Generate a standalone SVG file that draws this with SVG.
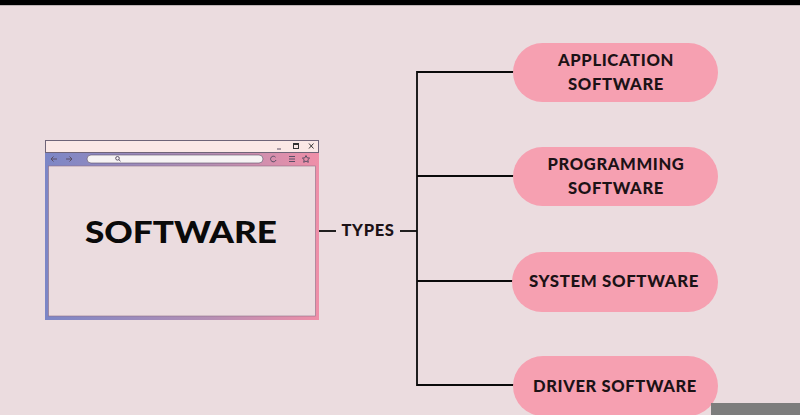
<svg xmlns="http://www.w3.org/2000/svg" width="800" height="415" viewBox="0 0 800 415">
<style>
.pill{fill:#f6a0b1}
.pt{font-family:Lato,"Liberation Sans",sans-serif;font-weight:900;font-size:16px;fill:#1c1216;text-anchor:middle;letter-spacing:0.6px}
.ln{stroke:#0a0a0a;stroke-width:1.8;fill:none}
.ic{stroke:#5a4f66;stroke-width:1;fill:none}
</style>
<defs>
<linearGradient id="g" x1="0" y1="0" x2="1" y2="0">
<stop offset="0" stop-color="#7c86c6"/>
<stop offset="0.6" stop-color="#b58fb4"/>
<stop offset="1" stop-color="#ef8fa8"/>
</linearGradient>
</defs>
<rect width="800" height="415" fill="#ebdcdf"/>
<rect width="800" height="5" fill="#000"/>
<rect y="5" width="800" height="1" fill="#bdb3b5"/>

<g id="browser">
<rect x="45" y="140" width="274" height="180" fill="url(#g)"/>
<rect x="45.5" y="140.5" width="273" height="12" fill="#fbe8e6" stroke="#6f6478" stroke-width="1"/>
<rect x="48.5" y="166" width="267" height="150" fill="#ebdcdf" stroke="#8e6f86" stroke-width="0.6"/>
<rect x="87" y="155" width="176" height="8" rx="4" fill="#f6f3f4" stroke="#5a4f66" stroke-width="0.6"/>
<circle cx="117.5" cy="158.3" r="1.8" class="ic"/>
<line x1="118.8" y1="159.6" x2="120.5" y2="161.2" class="ic"/>
<path d="M57 159H51M53.5 156.5L51 159L53.5 161.5" class="ic" stroke="#4a5a9a"/>
<path d="M66 159H72M69.5 156.5L72 159L69.5 161.5" class="ic" stroke="#4a5a9a"/>
<path d="M275.5 157.2A2.8 2.8 0 1 0 276 160" class="ic" stroke="#6b5a7a"/>
<path d="M289 156.5h6M289 159h6M289 161.5h6" class="ic" stroke="#8a6a84"/>
<path d="M306 155.5l1.1 2.3 2.5.3-1.8 1.7.5 2.5-2.3-1.2-2.3 1.2.5-2.5-1.8-1.7 2.5-.3z" class="ic" stroke="#5a4f66"/>
<line x1="277" y1="149" x2="281" y2="149" class="ic" stroke="#999"/>
<rect x="293.5" y="143.5" width="5" height="5" fill="none" stroke="#333" stroke-width="1"/>
<line x1="293.5" y1="144.3" x2="298.5" y2="144.3" stroke="#333" stroke-width="1.4"/>
<path d="M309 143.5l4.5 5M313.5 143.5l-4.5 5" stroke="#333" stroke-width="1"/>
<text x="181" y="243" font-family="Lato,'Liberation Sans',sans-serif" font-weight="900" font-size="31" fill="#0a0a0a" text-anchor="middle" textLength="192" lengthAdjust="spacingAndGlyphs">SOFTWARE</text>
</g>

<g id="connectors">
<line x1="319" y1="231" x2="336" y2="231" class="ln"/>
<line x1="400" y1="231" x2="417" y2="231" class="ln"/>
<polyline points="514,72 417,72 417,385 514,385" class="ln"/>
<line x1="417" y1="176" x2="514" y2="176" class="ln"/>
<line x1="417" y1="281" x2="514" y2="281" class="ln"/>
</g>

<g id="types">
<text x="368" y="236" class="pt" font-size="15.5" textLength="53" lengthAdjust="spacingAndGlyphs">TYPES</text>
</g>

<g id="application">
<rect x="513" y="43" width="205" height="59" rx="29.5" class="pill"/>
<text x="616" y="66" class="pt" textLength="116" lengthAdjust="spacingAndGlyphs">APPLICATION</text>
<text x="616" y="90" class="pt" textLength="96" lengthAdjust="spacingAndGlyphs">SOFTWARE</text>
</g>

<g id="programming">
<rect x="513" y="147" width="205" height="59" rx="29.5" class="pill"/>
<text x="616" y="170" class="pt" textLength="137" lengthAdjust="spacingAndGlyphs">PROGRAMMING</text>
<text x="616" y="194" class="pt" textLength="96" lengthAdjust="spacingAndGlyphs">SOFTWARE</text>
</g>

<g id="system">
<rect x="512" y="252" width="206" height="60" rx="30" class="pill"/>
<text x="614" y="287" class="pt" textLength="170" lengthAdjust="spacingAndGlyphs">SYSTEM SOFTWARE</text>
</g>

<g id="driver">
<rect x="513" y="356" width="205" height="60" rx="30" class="pill"/>
<text x="615" y="392" class="pt" textLength="164" lengthAdjust="spacingAndGlyphs">DRIVER SOFTWARE</text>
</g>
<rect x="711" y="403" width="89" height="12" fill="#7d7d7d"/>
</svg>
